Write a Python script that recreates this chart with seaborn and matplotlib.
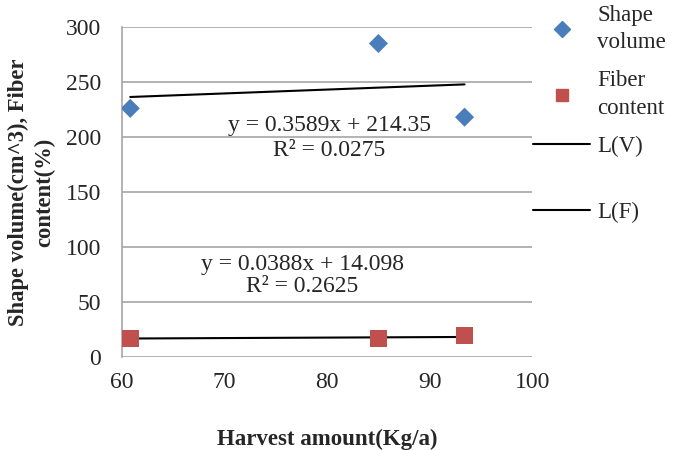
import numpy as np
import pandas as pd
import matplotlib.pyplot as plt
from matplotlib.lines import Line2D
import seaborn as sns

# values
harvest = [60.8, 85.0, 93.4]
shape_volume = [226, 285, 218]
fiber_content = [17, 16.5, 19]
eq_v = "y = 0.3589x + 214.35\nR² = 0.0275"
eq_f = "y = 0.0388x + 14.098\nR² = 0.2625"

df = pd.DataFrame({"harvest": harvest, "volume": shape_volume, "fiber": fiber_content})

sns.set_style("white")
plt.rcParams['font.family'] = ['Liberation Serif', 'DejaVu Serif']

blue = "#4a7ebb"
red = "#c0504d"

fig = plt.figure(figsize=(6.78, 4.5), dpi=100)
ax = fig.add_axes([0.18, 0.207, 0.605, 0.733])

# gridlines first so markers sit on top
ax.set_axisbelow(True)
ax.grid(axis='y', color='#a6a6a6', linewidth=1.2)

sns.regplot(data=df, x="harvest", y="volume", scatter=False, ci=None, ax=ax,
            line_kws={'color': 'black', 'linewidth': 1.5})
sns.regplot(data=df, x="harvest", y="fiber", scatter=False, ci=None, ax=ax,
            line_kws={'color': 'black', 'linewidth': 1.5})
sns.scatterplot(data=df, x="harvest", y="volume", marker='D', s=95, color=blue,
                edgecolor='none', ax=ax, zorder=3)
sns.scatterplot(data=df, x="harvest", y="fiber", marker='s', s=150, color=red,
                edgecolor='none', ax=ax, zorder=3)

ax.set_xlim(60, 100)
ax.set_ylim(0, 300)
ax.set_xticks(range(60, 101, 10))
ax.set_yticks(range(0, 301, 50))
ax.tick_params(length=0, labelsize=17)
ax.tick_params(axis='y', pad=15)
ax.tick_params(axis='x', pad=11)

for s in ['top', 'right', 'bottom']:
    ax.spines[s].set_visible(False)
ax.spines['left'].set_color('#a6a6a6')
ax.spines['left'].set_linewidth(1.2)

ax.set_xlabel("Harvest amount(Kg/a)", fontsize=16.5, fontweight='bold', labelpad=26)
ax.set_ylabel("Shape volume(cm^3), Fiber\ncontent(%)", fontsize=16.3, fontweight='bold',
              labelpad=7.5, linespacing=1.3)

ax.text(80.2, 199, eq_v, ha='center', va='center', fontsize=17, linespacing=1.25)
ax.text(77.6, 74, eq_f, ha='center', va='center', fontsize=17, linespacing=1.1)

# legend
h_v = Line2D([], [], marker='D', color=blue, linestyle='none', markersize=8)
h_f = Line2D([], [], marker='s', color=red, linestyle='none', markersize=9)
h_lv = Line2D([], [], color='black', linewidth=1.5)
h_lf = Line2D([], [], color='black', linewidth=1.5)

leg1 = ax.legend([h_v, h_f, h_lv], ["Shape\nvolume", "Fiber\ncontent", "L(V)"],
                 loc='upper left', bbox_to_anchor=(533 / 678, 1 - 5 / 450),
                 bbox_transform=fig.transFigure, frameon=False, fontsize=16.5,
                 handlelength=2.5, handletextpad=0.3, labelspacing=0.74,
                 borderpad=0, borderaxespad=0)
for t in leg1.get_texts():
    t.set_linespacing(1.4)
ax.add_artist(leg1)
ax.legend([h_lf], ["L(F)"], loc='center left', bbox_to_anchor=(533 / 678, 1 - 212 / 450),
          bbox_transform=fig.transFigure, frameon=False, fontsize=16.5, handlelength=2.5,
          handletextpad=0.3, borderpad=0, borderaxespad=0)

plt.savefig("out.png", dpi=100)
